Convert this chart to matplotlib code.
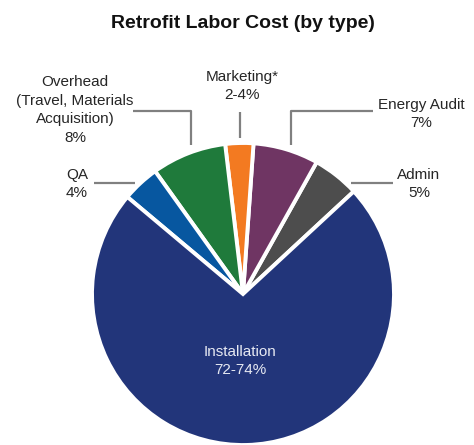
import matplotlib

matplotlib.use("Agg")
import matplotlib.pyplot as plt

# chart data
categories = ["Admin", "Energy Audit", "Marketing*", "Overhead\n(Travel, Materials\nAcquisition)", "QA", "Installation"]
shares = [5, 7, 3, 8, 4, 73]
share_labels = ["5%", "7%", "2-4%", "8%", "4%", "72-74%"]
colors = ["#4d4d4d", "#6f3563", "#f37a21", "#1f7a3b", "#0757a0", "#22357a"]

W, H = 474, 445
CENTER = (243, 294)
RADIUS = 151


def py(y):
    # pixel row (from top) -> data y
    return H - y


# label block centres (px from top) and leader line paths
label_pos = [(419, 184), (421, 114), (242, 86), (75, 110), (77, 184), (240, 361)]
leaders = [
    [(393, 183), (351, 183)],
    [(373, 111), (291, 111), (291, 145)],
    [(240, 112), (240, 138)],
    [(133, 111), (191, 111), (191, 145)],
    [(94, 183), (135, 183)],
    None,
]

plt.rcParams["font.family"] = ["Liberation Sans", "DejaVu Sans"]

fig = plt.figure(figsize=(W / 100, H / 100), dpi=100)
ax = fig.add_axes([0, 0, 1, 1])

ax.pie(
    shares,
    colors=colors,
    startangle=42.8,
    center=(CENTER[0], py(CENTER[1])),
    radius=RADIUS,
    explode=[0.015] * 5 + [0.02],
    wedgeprops={"edgecolor": "white", "linewidth": 2.8},
    frame=True,
)
ax.set_xlim(0, W)
ax.set_ylim(0, H)
ax.set_aspect("equal")
ax.axis("off")

for name, pct, pos, path in zip(categories, share_labels, label_pos, leaders):
    inside = path is None
    ax.text(
        pos[0],
        py(pos[1]),
        f"{name}\n{pct}",
        ha="center",
        va="center",
        fontsize=11,
        color="#e6e9f2" if inside else "#262626",
        linespacing=1.42,
    )
    if path:
        ax.plot(
            [p[0] for p in path],
            [py(p[1]) for p in path],
            color="#808080",
            linewidth=1.6,
            solid_capstyle="butt",
        )

ax.text(243, py(23), "Retrofit Labor Cost (by type)", ha="center", va="center",
        fontsize=14, fontweight="bold", color="#111111")

fig.savefig("out.png", dpi=100)
